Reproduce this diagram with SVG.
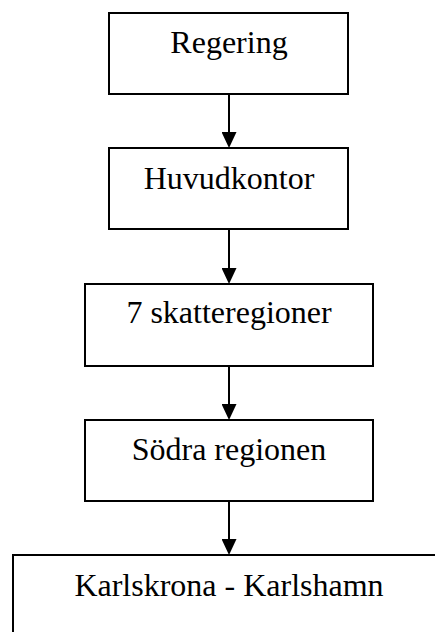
<svg xmlns="http://www.w3.org/2000/svg" width="435" height="632" viewBox="0 0 435 632">
<style>
.box{fill:#fff;stroke:#000;stroke-width:2}
.lbl{font-family:"Liberation Serif","Times New Roman",serif;font-size:32px;fill:#000;text-anchor:middle}
.con{stroke:#000;stroke-width:2;fill:none;marker-end:url(#ah)}
</style>
<defs>
<marker id="ah" markerUnits="userSpaceOnUse" markerWidth="16" markerHeight="15" refX="0" refY="7.5" orient="auto" viewBox="0 0 16 15">
<path d="M0,0 L16,7.5 L0,15 Z" fill="#000"/>
</marker>
</defs>
<g id="n1"><rect class="box" x="109" y="13" width="239" height="81"/><text class="lbl" x="229" y="53">Regering</text></g>
<g id="n2"><rect class="box" x="109" y="148" width="239" height="81"/><text class="lbl" x="229" y="189">Huvudkontor</text></g>
<g id="n3"><rect class="box" x="85" y="284" width="288" height="82"/><text class="lbl" x="229" y="323">7 skatteregioner</text></g>
<g id="n4"><rect class="box" x="85" y="420" width="288" height="81"/><text class="lbl" x="229" y="460">Södra regionen</text></g>
<g id="n5"><rect class="box" x="13" y="555" width="440" height="100"/><text class="lbl" x="229" y="596">Karlskrona - Karlshamn</text></g>
<g id="connectors">
<line class="con" x1="229" y1="94" x2="229" y2="132"/>
<line class="con" x1="229" y1="229" x2="229" y2="268"/>
<line class="con" x1="229" y1="366" x2="229" y2="404"/>
<line class="con" x1="229" y1="501" x2="229" y2="539"/>
</g>
</svg>
